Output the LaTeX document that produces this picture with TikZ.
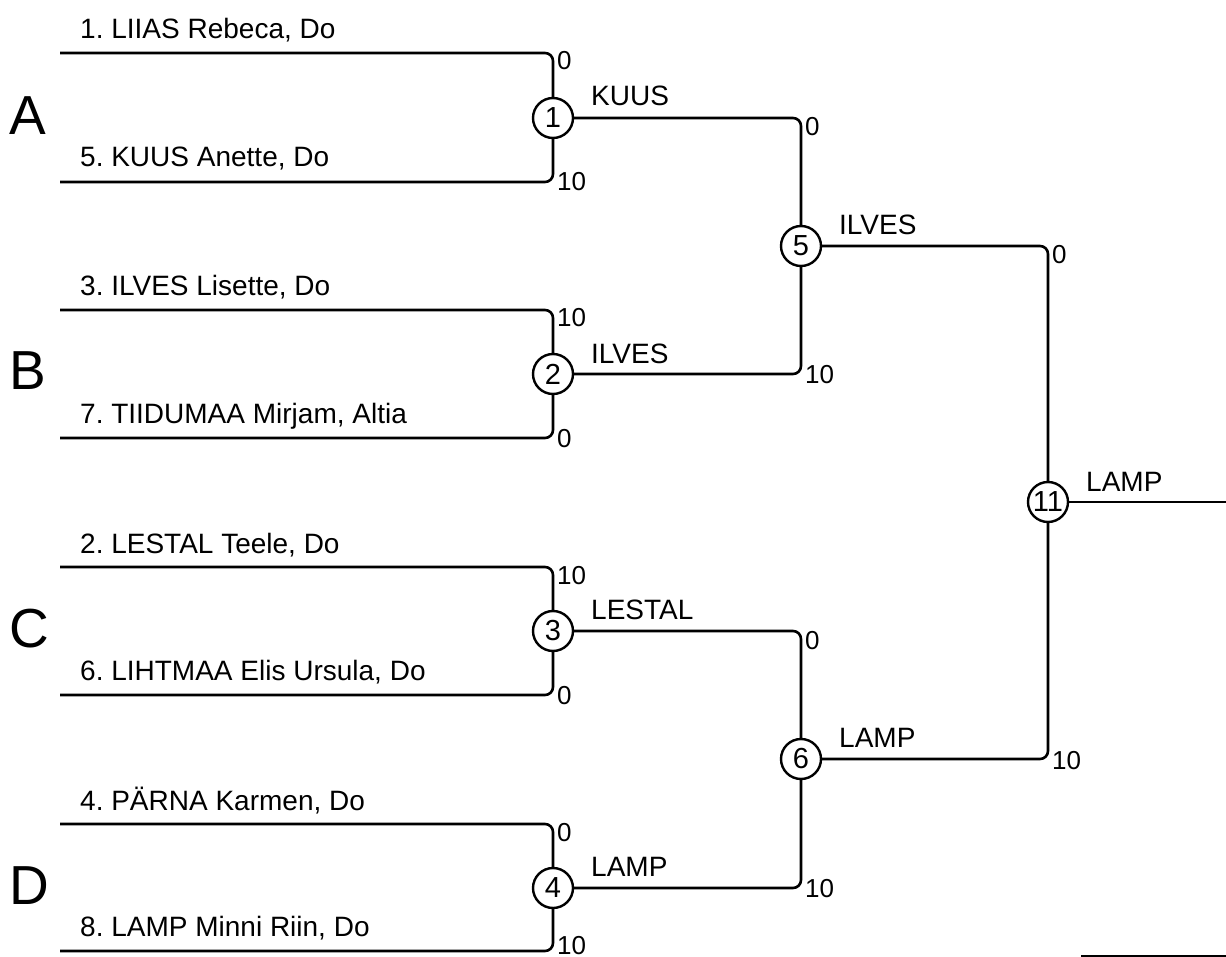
\documentclass[tikz,border=0pt]{standalone}
\usepackage{fontspec}
\setmainfont{Liberation Sans}
\frenchspacing
\begin{document}
\begin{tikzpicture}[x=1pt,y=-1pt,
  bline/.style={line width=2.6pt, rounded corners=8pt},
  match/.style={circle, draw, line width=2.4pt, minimum size=40pt, inner sep=0pt, font=\fontsize{29}{29}\selectfont, fill=white},
  pname/.style={anchor=base west, inner sep=0pt, font=\fontsize{28}{28}\selectfont},
  wname/.style={anchor=base west, inner sep=0pt, font=\fontsize{28}{28}\selectfont},
  score/.style={anchor=base west, inner sep=0pt, font=\fontsize{26}{26}\selectfont},
  grp/.style={anchor=base west, inner sep=0pt, font=\fontsize{55}{55}\selectfont}]
\useasboundingbox (0,0) rectangle (1226,957);
% matches
\node[match] (m1) at (553,118) {1};
\node[match] (m2) at (553,374) {2};
\node[match] (m3) at (553,631) {3};
\node[match] (m4) at (553,888) {4};
\node[match] (m5) at (801,246) {5};
\node[match] (m6) at (801,759) {6};
\node[match] (m11) at (1048,502) {11};
% entrant line starts
\coordinate (s1) at (60,53);
\coordinate (s2) at (60,182);
\coordinate (s3) at (60,310);
\coordinate (s4) at (60,438);
\coordinate (s5) at (60,567);
\coordinate (s6) at (60,695);
\coordinate (s7) at (60,824);
\coordinate (s8) at (60,951);
\coordinate (fin) at (1226,502);
% round 1
\draw[bline] (s1) -- (s1 -| m1) -- (m1.north);
\draw[bline] (s2) -- (s2 -| m1) -- (m1.south);
\draw[bline] (s3) -- (s3 -| m2) -- (m2.north);
\draw[bline] (s4) -- (s4 -| m2) -- (m2.south);
\draw[bline] (s5) -- (s5 -| m3) -- (m3.north);
\draw[bline] (s6) -- (s6 -| m3) -- (m3.south);
\draw[bline] (s7) -- (s7 -| m4) -- (m4.north);
\draw[bline] (s8) -- (s8 -| m4) -- (m4.south);
% round 2
\draw[bline] (m1.east) -- (m1 -| m5) -- (m5.north);
\draw[bline] (m2.east) -- (m2 -| m5) -- (m5.south);
\draw[bline] (m3.east) -- (m3 -| m6) -- (m6.north);
\draw[bline] (m4.east) -- (m4 -| m6) -- (m6.south);
% final
\draw[bline] (m5.east) -- (m5 -| m11) -- (m11.north);
\draw[bline] (m6.east) -- (m6 -| m11) -- (m11.south);
\draw[bline] (m11.east) -- (fin);
% player names
\node[pname] (n1) at (80,39) {1. LIIAS Rebeca, Do};
\node[pname] (n2) at (80,167) {5. KUUS Anette, Do};
\node[pname] (n3) at (80,296) {3. ILVES Lisette, Do};
\node[pname] (n4) at (80,423) {7. TIIDUMAA Mirjam, Altia};
\node[pname] (n5) at (80,553) {2. LESTAL Teele, Do};
\node[pname] (n6) at (80,680) {6. LIHTMAA Elis Ursula, Do};
\node[pname] (n7) at (80,810) {4. PÄRNA Karmen, Do};
\node[pname] (n8) at (80,936) {8. LAMP Minni Riin, Do};
% groups
\node[grp] (gA) at (9,135) {A};
\node[grp] (gB) at (9,390) {B};
\node[grp] (gC) at (9,647) {C};
\node[grp] (gD) at (9,904) {D};
% winners
\node[wname] (w1) at (591,106) {KUUS};
\node[wname] (w2) at (591,363) {ILVES};
\node[wname] (w3) at (591,619) {LESTAL};
\node[wname] (w4) at (591,876) {LAMP};
\node[wname] (w5) at (839,235) {ILVES};
\node[wname] (w6) at (839,747) {LAMP};
\node[wname] (w11) at (1086,491) {LAMP};
% scores
\node[score] (c1) at (557,70) {0};
\node[score] (c2) at (557,191) {10};
\node[score] (c3) at (557,327) {10};
\node[score] (c4) at (557,447) {0};
\node[score] (c5) at (557,584) {10};
\node[score] (c6) at (557,704) {0};
\node[score] (c7) at (557,841) {0};
\node[score] (c8) at (557,954) {10};
\node[score] (c9) at (805,136) {0};
\node[score] (c10) at (805,384) {10};
\node[score] (c11) at (805,649) {0};
\node[score] (c12) at (805,897) {10};
\node[score] (c13) at (1052,264) {0};
\node[score] (c14) at (1052,769) {10};
% bottom right rule
\coordinate (bl) at (1081,956);
\coordinate (br) at (1226,956);
\draw[line width=1.5pt] (bl) -- (br);
\end{tikzpicture}
\end{document}
